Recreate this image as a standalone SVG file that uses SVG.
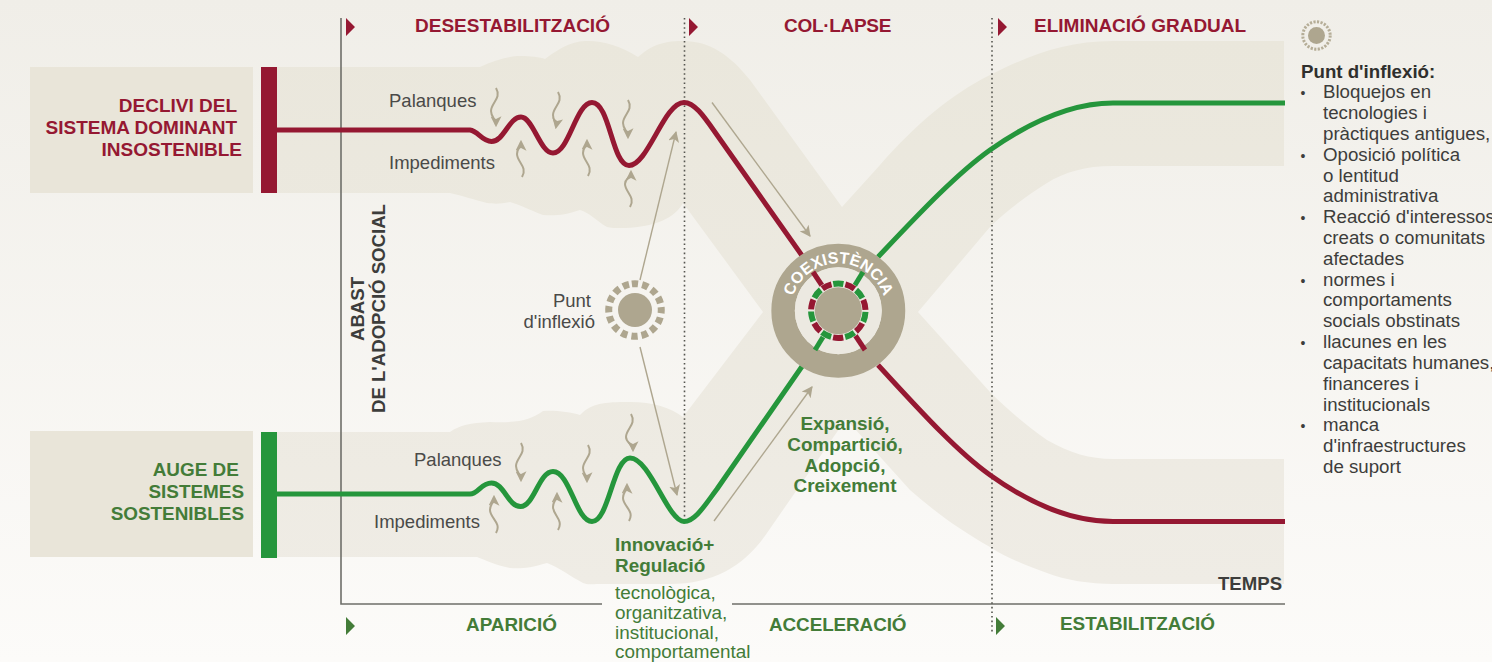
<svg xmlns="http://www.w3.org/2000/svg" width="1492" height="662" viewBox="0 0 1492 662">
<style>
text{font-family:"Liberation Sans",Arial,sans-serif}
.b{fill:url(#bandg)}
.box{fill:#e9e5d9}
.red{fill:none;stroke:#951832;stroke-width:5;stroke-linejoin:round}
.grn{fill:none;stroke:#25963c;stroke-width:5;stroke-linejoin:round}
.tan{fill:none;stroke:#aea68f;stroke-width:1.4;marker-end:url(#ah2)}
.sq{fill:none;stroke:#aea68f;stroke-width:2;marker-end:url(#ah)}
.hr{font-weight:700;font-size:19px;fill:#951832}
.hg{font-weight:700;font-size:18.900px;fill:#437c38}
.lab{font-size:18.500px;fill:#4a4a48}
.li{font-size:18.700px;fill:#3d3d3b}
.bu{font-size:14px;fill:#3d3d3b}
.g2{font-size:18.900px;fill:#437c38}
.ax{font-weight:700;font-size:18.600px;fill:#3d3d3b}
.dot{stroke:#55554f;stroke-width:1.6;stroke-dasharray:1.6 3;fill:none}
</style>
<defs>
<linearGradient id="bg" x1="0" y1="0" x2="0" y2="1"><stop offset="0" stop-color="#f0eee8"/><stop offset="1" stop-color="#fcfbf9"/></linearGradient>
<linearGradient id="bandg" gradientUnits="userSpaceOnUse" x1="0" y1="40" x2="0" y2="584"><stop offset="0" stop-color="#eae7dc"/><stop offset="1" stop-color="#efece5"/></linearGradient>
<marker id="ah" viewBox="0 0 10 10" refX="8" refY="5" markerWidth="11" markerHeight="11" markerUnits="userSpaceOnUse" orient="auto"><path d="M0 0L10 5L0 10L2.500 5Z" fill="#aea68f"/></marker>
<marker id="ah2" viewBox="0 0 10 10" refX="9" refY="5" markerWidth="11" markerHeight="11" markerUnits="userSpaceOnUse" orient="auto"><path d="M0 0L10 5L0 10L2.500 5Z" fill="#aea68f"/></marker>
<path id="arc" d="M790.800 310.700A47.500 47.500 0 0 1 885.800 310.700"/>
</defs>
<rect width="1492" height="662" fill="url(#bg)"/>
<g id="bands">
<path class="b" d="M277 67H480C495 60 510 56 520 56C530 56 540 57 545 59C560 48 570 42 585 41C600 40 620 45 638 57C650 47 660 41 683 41C710 41 730 55 750 80L842 207L880 165C915 125 950 95 990 75C1030 55 1065 41 1113 41H1284V166H1113C1085 166 1065 172 1047 183C1025 197 1005 212 990 227L918 312L990 392C1010 412 1030 428 1047 440C1070 453 1090 459 1113 459H1284V584H1113C1090 584 1065 580 1047 573C1025 565 1005 557 990 547C960 530 935 512 910 490L846 419L767 533C745 565 715 584 670 584H600C590 584 588 585 583 583C570 576 560 568 547 563C530 568 520 569 510 568C495 565 485 560 477 557H277V432H450C460 425 470 423 490 422C520 423 530 420 543 411C555 410 570 412 580 415C590 405 600 402 625 402C650 401 670 407 683 417L763 312L683 203C675 218 655 227 625 228C615 228 610 228 607 227C595 220 590 213 580 210C565 215 555 216 543 215C530 210 520 205 510 202C500 204 495 204 487 203C475 200 460 195 450 193H277Z"/>
</g>
<g id="box-decline"><rect class="box" x="30" y="67" width="223" height="126"/><rect x="261" y="67" width="16" height="126" fill="#951832"/>
<text class="hr" text-anchor="end"><tspan x="237" y="112">DECLIVI DEL</tspan><tspan x="237" y="134">SISTEMA DOMINANT</tspan><tspan x="242" y="156">INSOSTENIBLE</tspan></text></g>
<g id="box-rise"><rect class="box" x="30" y="431" width="223" height="126"/><rect x="261" y="432" width="16" height="126" fill="#25963c"/>
<text class="hg" text-anchor="end"><tspan x="244" y="476">AUGE DE </tspan><tspan x="244" y="498">SISTEMES</tspan><tspan x="244" y="520">SOSTENIBLES</tspan></text></g>
<g id="axes">
<path d="M341 18V604H602M732 604H1285" fill="none" stroke="#6f6f69" stroke-width="1.6"/>
<path class="dot" d="M684.500 18V522M992 18V634"/>
<path d="M346 18L355 27L346 36Z M689 18L698 27L689 36Z M998 18L1007 27L998 36Z" fill="#951832"/>
<path d="M346 617L355 626L346 635Z M996 617L1005 626L996 635Z" fill="#437c38"/>
</g>
<g id="connectors">
<path class="red" d="M277 130H470C478 131 482 141.500 491.500 141.500C504 141.500 509 117 521 117C533 117 540 153 553 153C569 153 576 102.500 592 102.500C610 102.500 612 165.500 629 165.500C648 165.500 664 102.500 684 102.500C695 102.500 705 118 717 135L803 257"/>
<path class="red" d="M878 365C915 405 955 450 990 475C1022 498 1065 521.500 1113 521.500H1285"/>
<path class="grn" d="M277 494H470C478 494 481 483 491.500 483C504 483 508 506.500 520.500 506.500C534 506.500 539 471.500 553 471.500C570 471.500 576 521.500 592 521.500C609 521.500 613 458 630 458C650 458 668 521.500 684 521.500C695 521.500 705 505 717 489L803 365"/>
<path class="grn" d="M878 257C915 218 955 175 990 150C1022 127.500 1065 103 1113 103H1285"/>
<path class="tan" d="M712 102.500L810 236"/>
<path class="tan" d="M714 521L812 387"/>
<path class="tan" d="M640 280L676 132"/>
<path class="tan" d="M640 347L677 495"/>
<path class="sq" d="M496 88C502 98 491 103 491 111C491 117 496 119 496 125"/>
<path class="sq" d="M558 92C564 102 553 107 553 115C553 121 557 122 556 127"/>
<path class="sq" d="M628 100C634 110 623 115 623 123C623 129 628 131 628 137"/>
<path class="sq" d="M522 177C528 167 517 162 517 154C517 148 521 148 521 142"/>
<path class="sq" d="M588 176C594 166 583 161 583 153C583 147 587 147 587 141"/>
<path class="sq" d="M630 207C636 197 625 192 625 184C625 178 631 178 631 172"/>
<path class="sq" d="M521 443C527 453 516 458 516 466C516 472 521 474 521 480"/>
<path class="sq" d="M588 445C594 455 583 460 583 468C583 474 587 475 587 481"/>
<path class="sq" d="M631 414C637 424 626 429 626 437C626 443 633 444 633 450"/>
<path class="sq" d="M496 533C502 523 490 518 490 510C490 504 494 503 494 497"/>
<path class="sq" d="M558 530C564 520 553 515 553 507C553 501 557 500 557 494"/>
<path class="sq" d="M629 521C635 511 623 506 623 498C623 492 627 491 627 485"/>
</g>
<g id="coexistencia">
<circle cx="838.300" cy="310.700" r="55.200" fill="none" stroke="#aea68f" stroke-width="23.500"/>
<circle cx="838.300" cy="310.700" r="43.500" fill="#ecE9e1"/>
<path d="M813 272L865 350" stroke="#951832" stroke-width="5" fill="none"/>
<path d="M863 272L815 350" stroke="#25963c" stroke-width="5" fill="none"/>
<circle cx="838.300" cy="310.700" r="30.500" fill="#ece9e1"/>
<circle cx="838.300" cy="310.700" r="27.200" fill="none" stroke="#25963c" stroke-width="6" stroke-dasharray="10.200 14.210" transform="rotate(-100.700 838.300 310.700)"/>
<circle cx="838.300" cy="310.700" r="27.200" fill="none" stroke="#951832" stroke-width="6" stroke-dasharray="10.200 14.210" transform="rotate(-75 838.300 310.700)"/>
<circle cx="838.300" cy="310.700" r="23.500" fill="#aea68f"/>
<text font-size="16" font-weight="700" fill="#fff"><textPath href="#arc" startOffset="50%" text-anchor="middle">COEXISTÈNCIA</textPath></text>
</g>
<g id="inflection">
<circle cx="635" cy="310" r="17" fill="#aea68f"/>
<circle cx="635" cy="310" r="26.300" fill="none" stroke="#aea68f" stroke-width="7" stroke-dasharray="6.300 4.030" transform="rotate(-96.900 635 310)"/>
<text class="lab" text-anchor="end"><tspan x="591" y="307">Punt</tspan><tspan x="595" y="328">d'inflexió</tspan></text>
</g>
<g id="legend">
<circle cx="1316.500" cy="35.500" r="8.500" fill="#aea68f"/>
<circle cx="1316.500" cy="35.500" r="13.700" fill="none" stroke="#b5ad97" stroke-width="3" stroke-dasharray="2.200 1.390"/>
<text x="1301" y="78" font-size="18.700" font-weight="700" fill="#2f2f2d">Punt d'inflexió:</text>
<text class="bu"><tspan x="1300.500" y="98">•</tspan><tspan x="1300.500" y="161">•</tspan><tspan x="1300.500" y="223">•</tspan><tspan x="1300.500" y="286">•</tspan><tspan x="1300.500" y="348">•</tspan><tspan x="1300.500" y="431">•</tspan></text>
<text class="li"><tspan x="1323" y="98">Bloquejos en</tspan><tspan x="1323" y="119">tecnologies i</tspan><tspan x="1323" y="140">pràctiques antigues,</tspan><tspan x="1323" y="161">Oposició política</tspan><tspan x="1323" y="182">o lentitud</tspan><tspan x="1323" y="202">administrativa</tspan><tspan x="1323" y="223">Reacció d'interessos</tspan><tspan x="1323" y="244">creats o comunitats</tspan><tspan x="1323" y="265">afectades</tspan><tspan x="1323" y="286">normes i</tspan><tspan x="1323" y="306">comportaments</tspan><tspan x="1323" y="327">socials obstinats</tspan><tspan x="1323" y="348">llacunes en les</tspan><tspan x="1323" y="369">capacitats humanes,</tspan><tspan x="1323" y="390">financeres i</tspan><tspan x="1323" y="411">institucionals</tspan><tspan x="1323" y="431">manca</tspan><tspan x="1323" y="452">d'infraestructures</tspan><tspan x="1323" y="473">de suport</tspan></text>
</g>
<g id="labels">
<text class="hr" x="415" y="32">DESESTABILITZACIÓ</text>
<text class="hr" x="784" y="32" letter-spacing="-0.300">COL·LAPSE</text>
<text class="hr" x="1034" y="32">ELIMINACIÓ GRADUAL</text>
<text class="hg" x="466" y="631">APARICIÓ</text>
<text class="hg" x="769" y="631" letter-spacing="-0.100">ACCELERACIÓ</text>
<text class="hg" x="1060" y="630">ESTABILITZACIÓ</text>
<text class="ax" x="1218" y="590">TEMPS</text>
<text class="ax" transform="translate(364 341) rotate(-90)">ABAST</text>
<text class="ax" transform="translate(385 413) rotate(-90)">DE L'ADOPCIÓ SOCIAL</text>
<text class="lab" x="389" y="107">Palanques</text>
<text class="lab" x="389" y="169">Impediments</text>
<text class="lab" x="414" y="466">Palanques</text>
<text class="lab" x="374" y="528">Impediments</text>
<text class="hg" text-anchor="middle"><tspan x="845" y="430">Expansió,</tspan><tspan x="845" y="451">Compartició,</tspan><tspan x="845" y="472">Adopció,</tspan><tspan x="845" y="492">Creixement</tspan></text>
<text class="hg"><tspan x="615" y="551">Innovació+</tspan><tspan x="615" y="572">Regulació</tspan></text>
<text class="g2"><tspan x="615" y="599">tecnològica,</tspan><tspan x="615" y="619">organitzativa,</tspan><tspan x="615" y="639">institucional,</tspan><tspan x="615" y="658">comportamental</tspan></text>
</g>
</svg>
